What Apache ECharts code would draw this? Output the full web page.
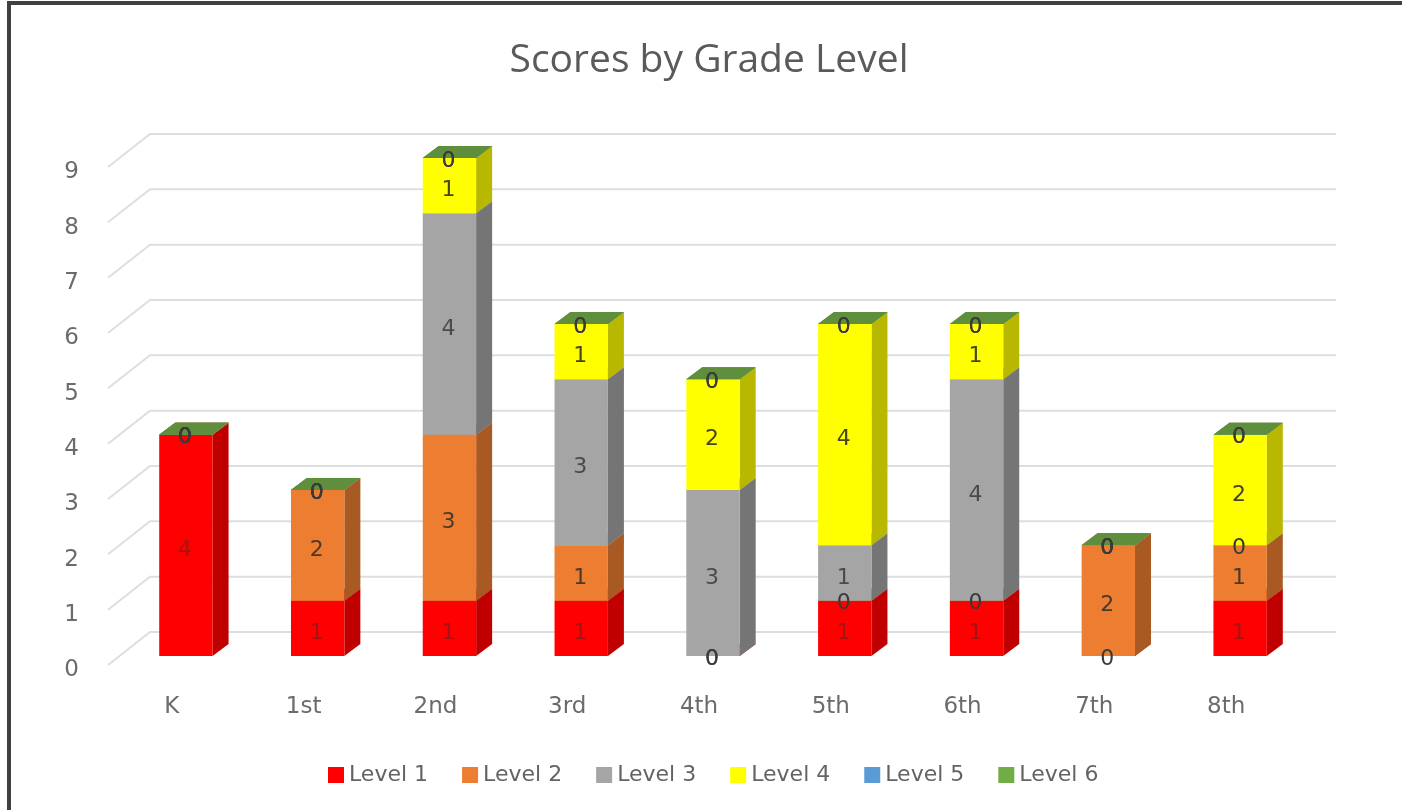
<!DOCTYPE html>
<html>
<head>
<meta charset="utf-8">
<script src="https://cdn.jsdelivr.net/npm/echarts@6/dist/echarts.min.js"></script>
<style>
html, body { margin: 0; padding: 0; background: #fff; overflow: hidden; }
#chart { width: 1402px; height: 810px; }
.frame { position: absolute; left: 7px; top: 1px; width: 1500px; height: 900px; border: 4px solid #404040; pointer-events: none; }
</style>
</head>
<body>
<div id="chart"></div>
<div class="frame"></div>
<script>
const grades = ["K", "1st", "2nd", "3rd", "4th", "5th", "6th", "7th", "8th"];
const yTicks = [0, 1, 2, 3, 4, 5, 6, 7, 8, 9];

const level1 = [4, 1, 1, 1, 0, 1, 1, 0, 1];
const level2 = [0, 2, 3, 1, 0, 0, 0, 2, 1];
const level3 = [0, 0, 4, 3, 3, 1, 4, 0, 0];
const level4 = [0, 0, 1, 1, 2, 4, 1, 0, 2];
const level5 = [0, 0, 0, 0, 0, 0, 0, 0, 0];
const level6 = [0, 0, 0, 0, 0, 0, 0, 0, 0];

const levels = [level1, level2, level3, level4, level5, level6];
const names = ["Level 1", "Level 2", "Level 3", "Level 4", "Level 5", "Level 6"];
const fronts = ["#ff0000", "#ed7d31", "#a5a5a5", "#ffff00", "#5b9bd5", "#70ad47"];
const sides = ["#c00000", "#a95a22", "#757575", "#b8b800", "#41719c", "#4f7a32"];
const tops = ["#d90000", "#c96a2a", "#8c8c8c", "#d9d900", "#4d84b5", "#5f8f3c"];
const textColors = ["#a81212", "#4a3a2a", "#4a4a4a", "#45451a", "#404040", "#404040"];

const font = "DejaVu Sans";
const depthX = 16;
const depthY = 12;

// sum of the lower levels of one grade
function baseOf(level, idx) {
  let sum = 0;
  for (let i = 0; i < level; i++) sum += levels[i][idx];
  return sum;
}

function renderGrid(params, api) {
  const y = api.coord([0, api.value(1)])[1];
  const x0 = params.coordSys.x;
  const x1 = x0 + params.coordSys.width;
  return {
    type: "polyline",
    silent: true,
    shape: { points: [[x0 - 12, y + 9], [x0 + 30, y - 24], [x1 + 30, y - 24]] },
    style: { stroke: "#dcdfe1", lineWidth: 2, fill: null }
  };
}

function renderBlock(level) {
  return function (params, api) {
    const idx = api.value(0);
    const val = api.value(1);
    const base = baseOf(level, idx);
    const low = api.coord([idx, base]);
    const high = api.coord([idx, base + val]);
    const w = api.size([1, 0])[0] * 0.405;
    const l = low[0] - w / 2;
    const r = low[0] + w / 2;
    return {
      type: "group",
      children: [
        {
          type: "polygon",
          shape: { points: [[r, high[1]], [r + depthX, high[1] - depthY], [r + depthX, low[1] - depthY], [r, low[1]]] },
          style: { fill: sides[level] }
        },
        {
          type: "polygon",
          shape: { points: [[l, high[1]], [l + depthX, high[1] - depthY], [r + depthX, high[1] - depthY], [r, high[1]]] },
          style: { fill: tops[level] }
        },
        {
          type: "rect",
          shape: { x: l, y: high[1], width: w, height: low[1] - high[1] },
          style: { fill: fronts[level] }
        },
        {
          type: "text",
          z2: 100,
          x: low[0] - 1,
          y: (low[1] + high[1]) / 2 + (val === 0 ? 3 : 5),
          style: {
            text: String(val),
            fill: val === 0 ? "#3a3a3a" : textColors[level],
            font: "22px '" + font + "'",
            align: "center",
            verticalAlign: "middle"
          }
        }
      ]
    };
  };
}

const gridSeries = {
  type: "custom",
  name: "grid",
  silent: true,
  z: 1,
  renderItem: renderGrid,
  data: yTicks.map(v => [0, v])
};

const blockSeries = levels.map((vals, level) => ({
  type: "custom",
  name: names[level],
  z: 2,
  itemStyle: { color: fronts[level] },
  renderItem: renderBlock(level),
  encode: { x: 0, y: 1 },
  data: vals.map((v, i) => [i, v])
}));

const chart = echarts.init(document.getElementById("chart"), null, { renderer: "canvas" });
chart.setOption({
  animation: false,
  backgroundColor: "#ffffff",
  title: {
    text: "Scores by Grade Level",
    left: 704,
    top: 36,
    textAlign: "center",
    textStyle: { fontFamily: "Open Sans", fontWeight: "normal", fontSize: 39, color: "#5a5a5a" }
  },
  legend: {
    data: names,
    left: 323,
    top: 759,
    icon: "rect",
    itemWidth: 16,
    itemHeight: 16,
    itemGap: 34,
    selectedMode: false,
    textStyle: { fontFamily: font, fontSize: 22, color: "#636363" }
  },
  grid: { left: 120, top: 158, width: 1186, height: 498 },
  xAxis: {
    type: "category",
    data: grades,
    axisLine: { show: false },
    axisTick: { show: false },
    splitLine: { show: false },
    axisLabel: {
      interval: 0,
      margin: 40,
      padding: [0, 28, 0, 0],
      fontFamily: font,
      fontSize: 23,
      color: "#6b6b6b"
    }
  },
  yAxis: {
    type: "value",
    min: 0,
    max: 9,
    interval: 1,
    axisLine: { show: false },
    axisTick: { show: false },
    splitLine: { show: false },
    axisLabel: {
      margin: 41,
      verticalAlign: "top",
      padding: [3, 0, 0, 0],
      fontFamily: font,
      fontSize: 23,
      color: "#6b6b6b"
    }
  },
  series: [gridSeries].concat(blockSeries)
});
</script>
</body>
</html>
